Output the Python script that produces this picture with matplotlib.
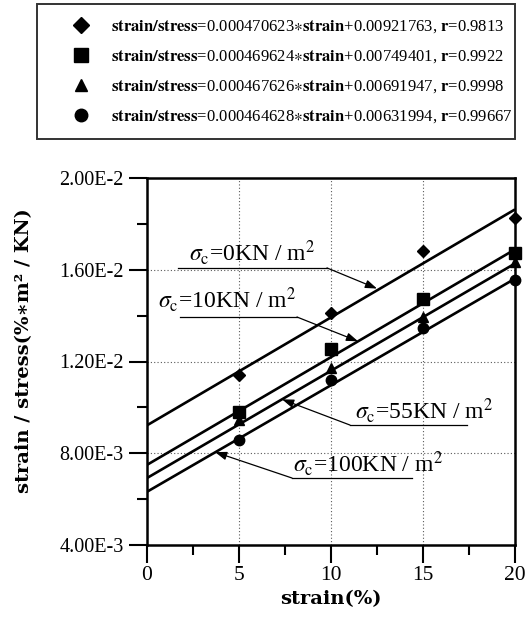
import numpy as np
import matplotlib
matplotlib.use("Agg")
import matplotlib.pyplot as plt
from matplotlib.ticker import MultipleLocator, FixedLocator, FixedFormatter

plt.rcParams['font.family'] = ['Liberation Serif', 'DejaVu Serif']
plt.rcParams['mathtext.fontset'] = 'stix'

# measured points (strain %, strain/stress)
strain = [5, 10, 15, 20]
y_0kn = [0.01141, 0.01412, 0.01682, 0.01826]
y_10kn = [0.00980, 0.01255, 0.01472, 0.01673]
y_55kn = [0.00945, 0.01172, 0.01394, 0.01634]
y_100kn = [0.00858, 0.01119, 0.01346, 0.01555]

# linear fits: strain/stress = slope*strain + intercept
slopes = ["0.000470623", "0.000469624", "0.000467626", "0.000464628"]
intercepts = ["0.00921763", "0.00749401", "0.00691947", "0.00631994"]
r_values = ["0.9813", "0.9922", "0.9998", "0.99667"]

markers = ['D', 's', '^', 'o']
msizes = [6.5, 8, 7, 7.5]
series = [y_0kn, y_10kn, y_55kn, y_100kn]

ytick_vals = [0.004, 0.008, 0.012, 0.016, 0.020]
ytick_labels = ["4.00E-3", "8.00E-3", "1.20E-2", "1.60E-2", "2.00E-2"]

fig = plt.figure(figsize=(5.28, 6.19), dpi=100)
ax = fig.add_axes([147/528, 1-545/619, 368/528, 367/619])

xs = np.array([0, 20])
handles = []
for ys, a, b, m, ms in zip(series, slopes, intercepts, markers, msizes):
    ax.plot(xs, float(a)*xs + float(b), color='black', lw=1.9, solid_capstyle='butt')
    h, = ax.plot(strain, ys, ls='none', marker=m, ms=ms, color='black', clip_on=False, zorder=5)
    handles.append(h)

labels = [r"$\mathbf{strain/stress}$=%s$\ast\mathbf{strain}$+%s, $\mathbf{r}$=%s" % (a, b, r)
          for a, b, r in zip(slopes, intercepts, r_values)]

ax.set_xlim(0, 20)
ax.set_ylim(0.004, 0.020)
ax.xaxis.set_major_locator(MultipleLocator(5))
ax.xaxis.set_minor_locator(MultipleLocator(2.5))
ax.yaxis.set_major_locator(FixedLocator(ytick_vals))
ax.yaxis.set_major_formatter(FixedFormatter(ytick_labels))
ax.yaxis.set_minor_locator(MultipleLocator(0.002))
ax.tick_params(which='major', direction='out', length=13, width=1.5, labelsize=15.5, pad=2)
ax.tick_params(axis='y', which='major', labelsize=14.5, pad=4)
ax.tick_params(which='minor', direction='out', length=7, width=1.5)
for s in ax.spines.values():
    s.set_linewidth(1.8)

for gx in [5, 10, 15]:
    ax.axvline(gx, color='0.35', lw=0.8, ls=(0, (1, 2)), zorder=0)
for gy in [0.008, 0.012, 0.016]:
    ax.axhline(gy, color='0.35', lw=0.8, ls=(0, (1, 2)), zorder=0)

ax.set_xlabel("strain(%)", fontsize=14, fontweight='bold', family='DejaVu Serif', labelpad=4)
ax.set_ylabel("strain / stress(%∗m² / KN)", fontsize=14, fontweight='bold', family='DejaVu Serif')
ax.yaxis.set_label_coords(-0.31, 0.53)

# leader lines: text, underline start/end, arrow tip
notes = [
    (r"$\sigma_\mathrm{c}$=0KN / m$^2$", (2.3, 0.01673), (1.68, 0.01608), (9.78, 0.01608), (12.5, 0.01518)),
    (r"$\sigma_\mathrm{c}$=10KN / m$^2$", (0.6, 0.01468), (1.79, 0.01394), (8.15, 0.01394), (11.47, 0.01288)),
    (r"$\sigma_\mathrm{c}$=55KN / m$^2$", (11.3, 0.00984), (17.39, 0.00923), (11.03, 0.00923), (7.34, 0.01035)),
    (r"$\sigma_\mathrm{c}$=100KN / m$^2$", (7.93, 0.00753), (14.4, 0.00692), (7.88, 0.00692), (3.7, 0.00805)),
]
for txt, tpos, p0, p1, tip in notes:
    ax.text(tpos[0], tpos[1], txt, fontsize=17, ha='left', va='center')
    ax.plot([p0[0], p1[0]], [p0[1], p1[1]], color='black', lw=0.9)
    ax.annotate("", xy=tip, xytext=p1,
                arrowprops=dict(arrowstyle='-|>,head_length=0.7,head_width=0.25',
                                color='black', lw=0.9, shrinkA=0, shrinkB=0))

leg = fig.legend(handles, labels, loc='upper left',
                 bbox_to_anchor=(37/528, 1-4/619, 478/528, 0.0), mode='expand',
                 fontsize=12, frameon=True, fancybox=False, edgecolor='black',
                 borderpad=0.85, labelspacing=0.8, handletextpad=0.0, borderaxespad=0,
                 handlelength=3.6, markerscale=1.2)
leg.get_frame().set_linewidth(1.4)

fig.savefig("out.png", dpi=100)
